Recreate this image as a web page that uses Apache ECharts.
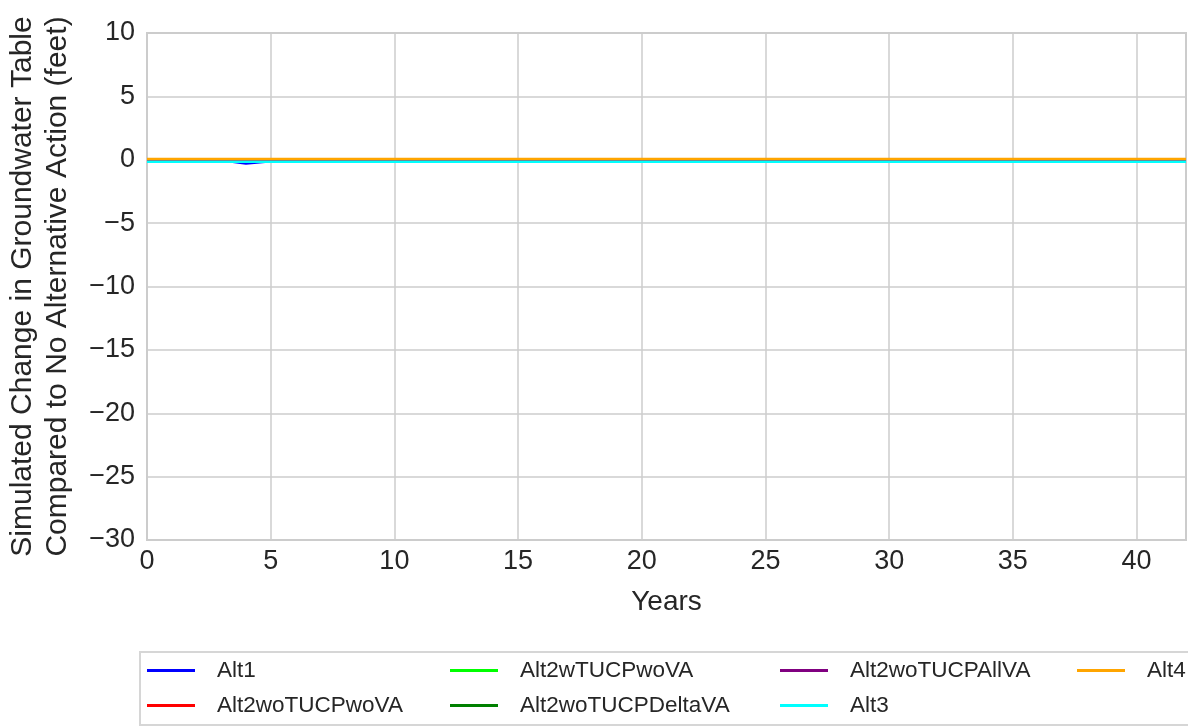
<!DOCTYPE html>
<html><head><meta charset="utf-8">
<script src="https://cdn.jsdelivr.net/npm/echarts@6/dist/echarts.min.js"></script>
<style>html,body{margin:0;padding:0;background:#fff}#c{width:1188px;height:726px}</style>
</head><body><div id="c"></div>
<script>
const years = [0,1,2,3,4,5,6,7,8,9,10,11,12,13,14,15,16,17,18,19,20,21,22,23,24,25,26,27,28,29,30,31,32,33,34,35,36,37,38,39,40,41,42];
const seriesNames = ['Alt1','Alt2woTUCPwoVA','Alt2wTUCPwoVA','Alt2woTUCPDeltaVA','Alt2woTUCPAllVA','Alt3','Alt4'];
const seriesColors = ['#0000ff','#ff0000','#00ff00','#008000','#800080','#00ffff','#ffa500'];
const alt1 = [0,0,0,-0.05,-0.3,-0.12,-0.08,-0.05,-0.05,-0.05,-0.05,-0.05,-0.05,-0.05,-0.05,-0.05,-0.05,-0.05,-0.05,-0.05,-0.05,-0.05,-0.05,-0.05,-0.05,-0.05,-0.05,-0.05,-0.05,-0.05,-0.05,-0.05,-0.05,-0.05,-0.05,-0.05,-0.05,-0.05,-0.05,-0.05,-0.05,-0.05,-0.05];
const alt2woTUCPwoVA = [0,0,0,0,0,0,0,0,0,0,0,0,0,0,0,0,0,0,0,0,0,0,0,0,0,0,0,0,0,0,0,0,0,0,0,0,0,0,0,0,0,0,0];
const alt2wTUCPwoVA = [0,0,0,0,0,0,0,0,0,0,0,0,0,0,0,0,0,0,0,0,0,0,0,0,0,0,0,0,0,0,0,0,0,0,0,0,0,0,0,0,0,0,0];
const alt2woTUCPDeltaVA = [0,0,0,0,0,0,0,0,0,0,0,0,0,0,0,0,0,0,0,0,0,0,0,0,0,0,0,0,0,0,0,0,0,0,0,0,0,0,0,0,0,0,0];
const alt2woTUCPAllVA = [0,0,0,0,0,0,0,0,0,0,0,0,0,0,0,0,0,0,0,0,0,0,0,0,0,0,0,0,0,0,0,0,0,0,0,0,0,0,0,0,0,0,0];
const alt3 = [-0.15,-0.15,-0.15,-0.15,-0.15,-0.15,-0.15,-0.15,-0.15,-0.15,-0.15,-0.15,-0.15,-0.15,-0.15,-0.15,-0.15,-0.15,-0.15,-0.15,-0.15,-0.15,-0.15,-0.15,-0.15,-0.15,-0.15,-0.15,-0.15,-0.15,-0.15,-0.15,-0.15,-0.15,-0.15,-0.15,-0.15,-0.15,-0.15,-0.15,-0.15,-0.15,-0.15];
const alt4 = [0.05,0.05,0.05,0.05,0.05,0.05,0.05,0.05,0.05,0.05,0.05,0.05,0.05,0.05,0.05,0.05,0.05,0.05,0.05,0.05,0.05,0.05,0.05,0.05,0.05,0.05,0.05,0.05,0.05,0.05,0.05,0.05,0.05,0.05,0.05,0.05,0.05,0.05,0.05,0.05,0.05,0.05,0.05];
const allValues = [alt1,alt2woTUCPwoVA,alt2wTUCPwoVA,alt2woTUCPDeltaVA,alt2woTUCPAllVA,alt3,alt4];

const font = 'Liberation Sans, Arial, sans-serif';
const txt = '#262626';
const chart = echarts.init(document.getElementById('c'), null, {renderer:'canvas'});

const series = seriesNames.map((n,i)=>({
  name:n, type:'line', showSymbol:false, symbol:'none',
  data: years.map((y,j)=>[y, allValues[i][j]]),
  lineStyle:{color:seriesColors[i], width:2.5},
  itemStyle:{color:seriesColors[i]},
  z: 2+i, animation:false
}));

const colX = [147, 450, 780, 1077];
const legends = [];
for (let c=0;c<4;c++){
  const d = [seriesNames[c*2], seriesNames[c*2+1]].filter(Boolean);
  legends.push({
    data: d.map(n=>({name:n, icon:'rect'})),
    orient:'vertical', left: colX[c], top: 659,
    itemWidth:48, itemHeight:3, itemGap:12,
    textStyle:{fontFamily:font, fontSize:22.5, lineHeight:22, color:txt, padding:[0,0,0,17]},
    padding:0, selectedMode:false
  });
}

chart.setOption({
  animation:false,
  backgroundColor:'#ffffff',
  grid:{left:147, right:2, top:33, bottom:186, show:true, borderColor:'#cccccc', borderWidth:2, containLabel:false, outerBoundsMode:'none'},
  legend: legends,
  graphic:[{type:'rect', shape:{x:140, y:652, width:1060, height:73}, style:{fill:'none', stroke:'#d6d6d6', lineWidth:2}, silent:true}],
  xAxis:{type:'value', min:0, max:42, interval:5,
    name:'Years', nameLocation:'middle', nameGap:48,
    nameTextStyle:{fontFamily:font, fontSize:28, color:txt},
    axisLine:{show:false}, axisTick:{show:false},
    axisLabel:{fontFamily:font, fontSize:27, color:txt, margin:8, showMaxLabel:false},
    splitLine:{show:true, lineStyle:{color:'#cccccc', width:1.5}}},
  yAxis:{type:'value', min:-30, max:10, interval:5,
    name:'Simulated Change in Groundwater Table\nCompared to No Alternative Action (feet)',
    nameLocation:'middle', nameGap:72,
    nameTextStyle:{fontFamily:font, fontSize:30, color:txt, lineHeight:35},
    axisLine:{show:false}, axisTick:{show:false},
    axisLabel:{fontFamily:font, fontSize:27, color:txt, margin:12,
      formatter: v => (v<0 ? '\u2212'+Math.abs(v) : String(v))},
    splitLine:{show:true, lineStyle:{color:'#cccccc', width:1.5}}},
  series: series
});
</script></body></html>
